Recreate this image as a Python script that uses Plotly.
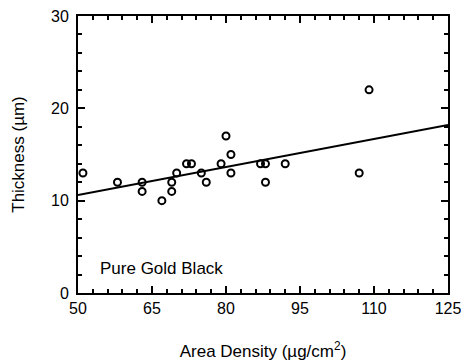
import plotly.graph_objects as go

area_density = [51, 58, 63, 63, 67, 69, 69, 70, 72, 73, 75, 76, 79, 80, 81, 81, 87, 88, 88, 92, 107, 109]
thickness = [13, 12, 12, 11, 10, 12, 11, 13, 14, 14, 13, 12, 14, 17, 15, 13, 14, 14, 12, 14, 13, 22]
fit_x = [50, 125]
fit_y = [10.6, 18.2]
x_ticks = [50, 65, 80, 95, 110, 125]
y_ticks = [0, 10, 20, 30]

FONT = "Liberation Sans, Arial, sans-serif"

fig = go.Figure()
fig.add_trace(go.Scatter(x=fit_x, y=fit_y, mode="lines",
                         line=dict(color="black", width=2), showlegend=False))
fig.add_trace(go.Scatter(x=area_density, y=thickness, mode="markers",
                         marker=dict(symbol="circle-open", size=7, color="black",
                                     line=dict(width=2, color="black")),
                         showlegend=False))

fig.add_annotation(x=54, y=2.7, xref="x", yref="y", text="Pure Gold Black",
                   showarrow=False, xanchor="left", yanchor="middle",
                   font=dict(family=FONT, size=17, color="black"))

axis_common = dict(showline=True, linewidth=2, linecolor="black", mirror="ticks",
                   ticks="inside", ticklen=7, tickwidth=1.5, tickcolor="black",
                   showgrid=False, zeroline=False, automargin=False,
                   ticklabeloverflow="allow",
                   tickfont=dict(family=FONT, size=16, color="black"))

fig.update_xaxes(range=[50, 125], tickvals=x_ticks, ticktext=[str(v) for v in x_ticks],
                 minor=dict(dtick=3, tick0=50, ticks="inside", ticklen=4, tickcolor="black", tickwidth=1.5),
                 title=dict(text="Area Density (µg/cm<sup>2</sup>)", standoff=30,
                            font=dict(family=FONT, size=17, color="black")),
                 **axis_common)
fig.update_yaxes(range=[0, 30], tickvals=y_ticks, ticktext=[str(v) for v in y_ticks],
                 minor=dict(dtick=2, tick0=0, ticks="inside", ticklen=4, tickcolor="black", tickwidth=1.5),
                 ticklabelstandoff=4,
                 title=dict(text="Thickness (µm)", standoff=22,
                            font=dict(family=FONT, size=17, color="black")),
                 **axis_common)

fig.update_layout(width=461, height=361, margin=dict(l=78, r=13, t=16, b=68),
                  plot_bgcolor="white", paper_bgcolor="white")

fig.write_html("out.html")
